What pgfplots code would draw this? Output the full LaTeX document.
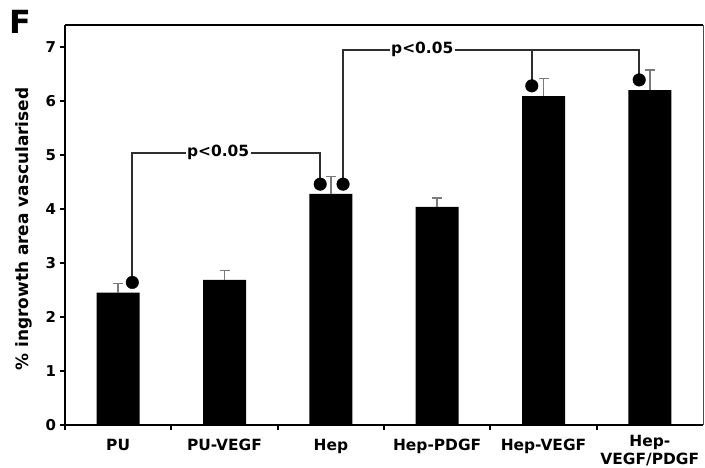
\documentclass[border=0pt]{standalone}
\usepackage{pgfplots}
\pgfplotsset{compat=1.18}
\usepackage{fontspec}
\setmainfont{DejaVu Sans}
\definecolor{errgray}{HTML}{7A7A7A}
\definecolor{linegray}{HTML}{2E2E2E}
\begin{document}
\begin{tikzpicture}[x=1bp,y=1bp]
\useasboundingbox (0,0) rectangle (705,468);
\begin{axis}[
  at={(65bp,43bp)}, anchor=south west,
  scale only axis, width=638bp, height=400bp,
  xmin=0, xmax=6, ymin=0, ymax=7.407,
  axis lines=left,
  axis line style={line width=2.4bp, -},
  clip=false,
  ytick={0,1,...,7},
  xtick={0,1,...,5}, xticklabels={},
  extra x ticks={0.5,1.5,2.5,3.5,4.5,5.5},
  extra x tick labels={PU,PU-VEGF,Hep,Hep-PDGF,Hep-VEGF,{\raisebox{6bp}[\height][\depth]{\begin{tabular}{@{}c@{}}Hep-\\[0bp]VEGF/PDGF\end{tabular}}}},
  extra x tick style={major tick length=0pt, xticklabel style={yshift=-11bp}},
  tick align=outside,
  major tick length=5bp,
  tick style={line width=2bp, black},
  /pgf/number format/assume math mode=true,
  yticklabel style={font=\bfseries\fontsize{15}{18}\selectfont, xshift=-0.5bp},
  xticklabel style={font=\bfseries\fontsize{15.5}{18}\selectfont, anchor=north},
  every axis y label/.style={at={(axis description cs:-0.064,0.49)}, rotate=90, anchor=center, font=\bfseries\fontsize{17}{20}\selectfont},
  ylabel={\% ingrowth area vascularised},
]
% bars
\addplot[ybar, bar width=43bp, fill=black, draw=none,
  error bars/.cd, y dir=plus, y explicit,
  error bar style={line width=1.4bp, errgray},
  error mark options={rotate=90, line width=1.4bp, mark size=5bp, errgray}]
  coordinates {
  (0.5,2.45) +- (0,0.17)
  (1.5,2.685) +- (0,0.175)
  (2.5,4.28) +- (0,0.32)
  (3.5,4.04) +- (0,0.16)
  (4.5,6.09) +- (0,0.33)
  (5.5,6.20) +- (0,0.37)
  };
% brackets
\addplot[line width=1.7bp, linegray] coordinates {(0.633,2.64) (0.633,5.04) (2.40,5.04) (2.40,4.46)};
\addplot[line width=1.7bp, linegray] coordinates {(2.615,4.46) (2.615,6.95) (5.40,6.95) (5.40,6.39)};
\addplot[line width=1.7bp, linegray] coordinates {(4.39,6.95) (4.39,6.28)};
% dots
\addplot[only marks, mark=*, mark size=6.3bp, black] coordinates {(0.633,2.64) (2.40,4.46) (2.615,4.46) (4.39,6.28) (5.40,6.39)};
% p labels
\node[fill=white, inner sep=1.5bp, font=\bfseries\fontsize{15.5}{18}\selectfont] at (axis cs:1.44,5.04) {p<0.05};
\node[fill=white, inner sep=1.5bp, font=\bfseries\fontsize{15.5}{18}\selectfont] at (axis cs:3.36,6.95) {p<0.05};
% top and right frame
\draw[line width=2.4bp] (rel axis cs:0,1) -- (rel axis cs:1,1);
\draw[line width=1bp, black!70] (rel axis cs:1,1) -- (rel axis cs:1,0);
\end{axis}
\node[font=\bfseries\fontsize{32}{36}\selectfont, anchor=center] at (20.5bp,446bp) {F};
\end{tikzpicture}
\end{document}
